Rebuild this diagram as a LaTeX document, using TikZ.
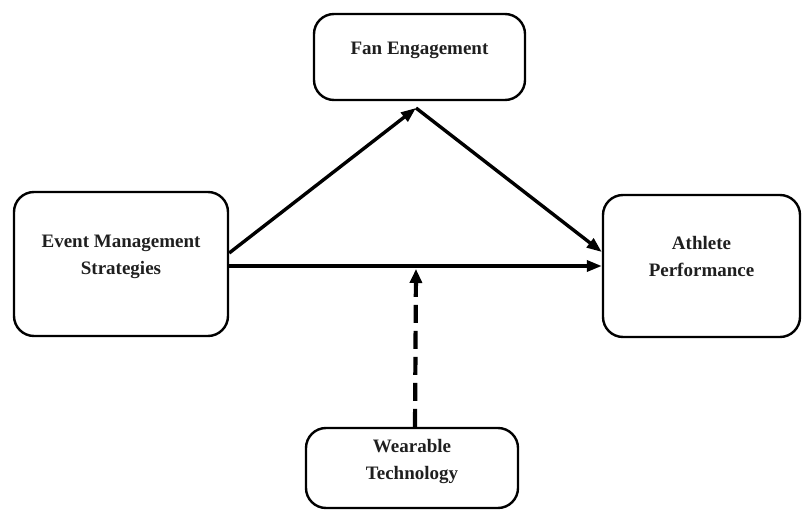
\documentclass[tikz,border=0pt]{standalone}
\usepackage{fontspec}
\setmainfont{Liberation Serif}
\usetikzlibrary{arrows.meta}
\begin{document}
\begin{tikzpicture}[x=1pt,y=-1pt,
  box/.style={draw, line width=2.4pt, rounded corners=20pt, inner sep=0pt},
  lbl/.style={font=\fontsize{19}{27}\selectfont\bfseries, align=center, inner sep=0pt, text=black!88},
  arr/.style={line width=3.4pt, -{Triangle[length=15pt,width=11pt]}},
  modarr/.style={line width=4.2pt, dash pattern=on 18pt off 8pt, -{Triangle[length=14pt,width=12pt]}},
]
\useasboundingbox (0,0) rectangle (802,510);
\node[box, minimum width=211pt, minimum height=86pt] (fe) at (419.5,57) {};
\node[box, minimum width=214pt, minimum height=144pt] (em) at (121,264) {};
\node[box, minimum width=197pt, minimum height=142pt] (ap) at (701.5,266) {};
\node[box, minimum width=212pt, minimum height=80pt] (wt) at (412,468) {};
\node[lbl] (fet) at ([yshift=7pt]fe.center) {Fan Engagement};
\node[lbl] (emt) at ([yshift=7pt]em.center) {Event Management\\Strategies};
\node[lbl] (apt) at ([yshift=9pt]ap.center) {Athlete\\Performance};
\node[lbl] (wtt) at ([yshift=6pt]wt.center) {Wearable\\Technology};
\coordinate (apex) at (416,108);
\draw[arr] ([yshift=11pt]em.east) -- (apex);
\draw[arr] (apex) -- ([yshift=14pt]ap.west);
\draw[arr] (em.east |- ap.west) -- (ap.west);
\path (apex |- ap.west) coordinate (mid);
\draw[modarr] ([xshift=3pt]wt.north) -- ([yshift=-3pt]mid);
\end{tikzpicture}
\end{document}
